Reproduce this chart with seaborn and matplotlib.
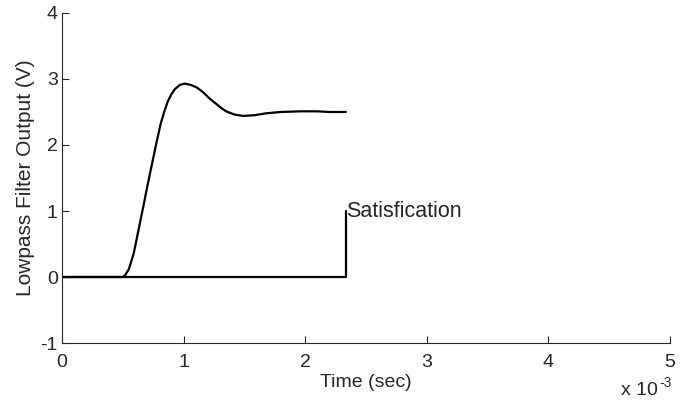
import numpy as np
import pandas as pd
import matplotlib
matplotlib.use("Agg")
import matplotlib.pyplot as plt
import seaborn as sns
from matplotlib.ticker import FuncFormatter

# Dữ liệu (thời gian tính bằng ms)
t_filter_ms = [0.0, 0.30, 0.50, 0.52, 0.55, 0.59, 0.63, 0.67, 0.70, 0.75, 0.78,
               0.81, 0.84, 0.87, 0.90, 0.93, 0.97, 1.01, 1.06, 1.11, 1.16,
               1.21, 1.27, 1.31, 1.35, 1.42, 1.49, 1.58, 1.68, 1.80, 1.96,
               2.10, 2.20, 2.335]
v_filter = [0.0, 0.0, 0.0, 0.03, 0.12, 0.36, 0.72, 1.08, 1.36, 1.80, 2.06,
            2.31, 2.50, 2.66, 2.77, 2.85, 2.91, 2.93, 2.91, 2.87, 2.80,
            2.71, 2.62, 2.56, 2.51, 2.46, 2.44, 2.45, 2.48, 2.50, 2.51,
            2.51, 2.50, 2.50]

t_sat_ms = [0.0, 2.335, 2.335]
v_sat = [0.0, 0.0, 1.0]

xticks_ms = [0, 1, 2, 3, 4, 5]
yticks = [-1, 0, 1, 2, 3, 4]

sns.set_style("ticks")
plt.rcParams['font.family'] = ['Liberation Sans', 'DejaVu Sans']
plt.rcParams['font.size'] = 14
plt.rcParams['axes.unicode_minus'] = False

df_filter = pd.DataFrame({'t': np.array(t_filter_ms) * 1e-3, 'v': v_filter})
df_sat = pd.DataFrame({'t': np.array(t_sat_ms) * 1e-3, 'v': v_sat})

fig, ax = plt.subplots(figsize=(6.97, 4.05), dpi=100)
fig.subplots_adjust(left=0.089, right=0.961, bottom=0.153, top=0.968)

sns.lineplot(data=df_sat, x='t', y='v', sort=False, estimator=None,
             color='black', linewidth=1.6, ax=ax)
sns.lineplot(data=df_filter, x='t', y='v', sort=False, estimator=None,
             color='black', linewidth=1.6, ax=ax)

ax.text(t_sat_ms[-1] * 1e-3, v_sat[-1], 'Satisfication', ha='left',
        va='center', fontsize=15.5)

ax.set_xlim(0, 5e-3)
ax.set_ylim(-1, 4)
ax.set_xticks(np.array(xticks_ms) * 1e-3)
ax.set_yticks(yticks)
ax.xaxis.set_major_formatter(FuncFormatter(lambda x, p: f"{x * 1e3:g}"))
ax.tick_params(direction='in', length=5, width=0.8, labelsize=14)
ax.tick_params(axis='x', pad=8)
ax.tick_params(axis='y', pad=3)
sns.despine(ax=ax)
for s in ['left', 'bottom']:
    ax.spines[s].set_linewidth(0.8)

ax.set_xlabel('Time (sec)', fontsize=14, labelpad=2)
ax.set_ylabel('Lowpass Filter Output (V)', fontsize=15, labelpad=4)

# Nhãn hệ số mũ kiểu MATLAB
fig.text(658 / 697, 10 / 405, 'x 10', ha='right', va='baseline', fontsize=14)
fig.text(659 / 697, 18 / 405, '-3', ha='left', va='baseline', fontsize=10)

plt.savefig('out.png', dpi=100)
